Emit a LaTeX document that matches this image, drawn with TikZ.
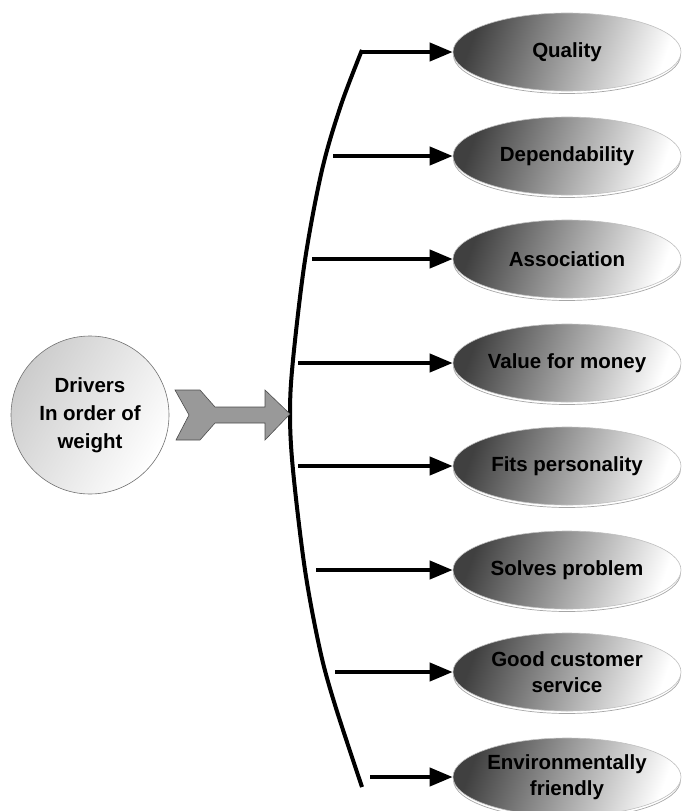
\documentclass[tikz,border=0pt]{standalone}
\usepackage{fontspec}
\setmainfont{Liberation Sans}
\usetikzlibrary{arrows.meta,shapes.geometric}
\begin{document}
\begin{tikzpicture}[x=1pt,y=-1pt,
  lbl/.style={font=\bfseries\fontsize{20.5}{26}\selectfont, align=center, text=black},
  oval/.style={lbl, ellipse, minimum width=228pt, minimum height=78pt, inner sep=0pt,
     draw=black!25, line width=0.6pt, left color=black!75, right color=white, shading angle=70},
  ovalshadow/.style={draw=black!35, line width=0.7pt},
  conn/.style={line width=4pt, -{Triangle[length=23pt,width=18pt]}},
  hub/.style={lbl, circle, minimum size=158pt, inner sep=0pt, draw=black!55, line width=0.6pt,
     left color=black!20, right color=white, shading angle=60, font=\bfseries\fontsize{20.5}{28}\selectfont},
  chev/.style={fill=black!40, draw=black!70, line width=0.6pt, line join=miter}]
\useasboundingbox (0,0) rectangle (681,811);

% spine curve
\draw[line width=4pt, line cap=butt] plot[smooth, tension=0.55] coordinates
  {(362,50) (341,105) (322,170) (305,260) (293,360) (290,413) (293,470) (305,570) (320,650) (335,705) (362,787)};

\foreach \i/\y/\t/\sx in {1/52/Quality/362, 2/156/Dependability/333, 3/259/Association/312,
   4/363/Value for money/298, 5/466/Fits personality/298, 6/570/Solves problem/316,
   7/672/{Good customer\\service}/335, 8/777/{Environmentally\\friendly}/370}{
  \draw[ovalshadow] (567,\y+3) ellipse (113.5pt and 38.5pt);
  \node[oval] (e\i) at (567,\y) {\t};
  \coordinate (s\i) at (\sx,\y);
  \draw[conn] (s\i) -- (e\i.west);
}

% hub circle
\node[hub] (c) at (90,415) {Drivers\\In order of\\weight};

% chevron arrow
\draw[chev] (175,390) -- (200,390) -- (215,407) -- (265,407) -- (265,390) -- (290,414)
  -- (265,440) -- (265,423) -- (215,423) -- (200,440) -- (176,440) -- (189,415) -- cycle;
\end{tikzpicture}
\end{document}
